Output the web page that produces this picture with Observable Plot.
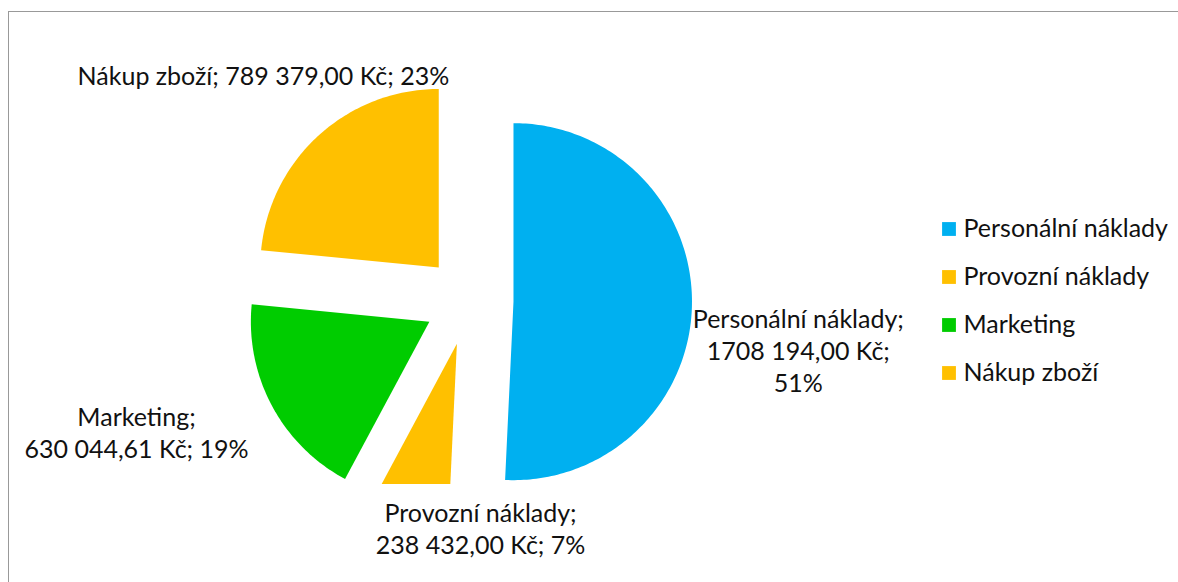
<!DOCTYPE html>
<html>
<head>
<meta charset="utf-8">
<script src="https://cdn.jsdelivr.net/npm/d3@7"></script>
<script src="https://cdn.jsdelivr.net/npm/@observablehq/plot@0.6"></script>
<style>
  html, body { margin: 0; padding: 0; background: #fff; overflow: hidden; }
  #wrap { position: relative; width: 1178px; height: 582px; overflow: hidden; }
  #frame { position: absolute; left: 8px; top: 11px; width: 1300px; height: 700px;
           border-top: 1.5px solid #999; border-left: 1.5px solid #999;
           border-right: none; border-bottom: none; pointer-events: none; }
</style>
</head>
<body>
<div id="wrap"><div id="chart"></div><div id="frame"></div></div>
<script>
// ---- data ----
const categories = ["Personální náklady", "Provozní náklady", "Marketing", "Nákup zboží"];
const values = [1708194.00, 238432.00, 630044.61, 789379.00];
const valueLabels = ["1708 194,00 Kč", "238 432,00 Kč", "630 044,61 Kč", "789 379,00 Kč"];
const percentLabels = ["51%", "7%", "19%", "23%"];
const colors = ["#00B0F0", "#FFC000", "#00CC00", "#FFC000"];

// ---- layout ----
const W = 1178, H = 582;
const plotBottom = 484;            // plot-area bottom edge (slices are clipped here)
const cx = 468.3, cy = 300.1;      // pie centre
const radius = 178.5, explode = 44.7;
const labelBreaks = [["\n", "\n"], ["\n", " "], ["\n", " "], [" ", " "]];
const labelOffsets = [[106.4, 43.9], [71.2, 11.7], [-135.4, 26.2], [-55.4, -60.8]];
const legendX = 948.5, legendTextX = 963, legendY0 = 228.5, legendStep = 48;
const fontSize = 25;

// ---- geometry via d3.pie ----
const arcs = d3.pie().sort(null).value(d => d)(values);
const slicePts = [];
const labels = [];
arcs.forEach((a, i) => {
  const mid = (a.startAngle + a.endAngle) / 2;
  const vx = cx + explode * Math.sin(mid), vy = cy - explode * Math.cos(mid);
  const name = categories[i];
  slicePts.push({name, x: vx, y: vy});
  const N = Math.max(8, Math.ceil((a.endAngle - a.startAngle) * 180 / Math.PI));
  for (let k = 0; k <= N; k++) {
    const t = a.startAngle + (a.endAngle - a.startAngle) * k / N;
    slicePts.push({name, x: vx + radius * Math.sin(t), y: vy - radius * Math.cos(t)});
  }
  slicePts.push({name, x: vx, y: vy});
  const ox = vx + radius * Math.sin(mid), oy = vy - radius * Math.cos(mid);
  const [b0, b1] = labelBreaks[i];
  labels.push({
    x: ox + labelOffsets[i][0],
    y: oy + labelOffsets[i][1],
    text: name + ";" + b0 + valueLabels[i] + ";" + b1 + percentLabels[i]
  });
});
const legendRows = categories.map((name, i) => ({name, y: legendY0 + i * legendStep}));

const chart = Plot.plot({
  width: W, height: H,
  marginTop: 0, marginLeft: 0, marginRight: 0, marginBottom: H - plotBottom,
  x: {domain: [0, W], range: [0, W], axis: null},
  y: {domain: [0, plotBottom], range: [0, plotBottom], axis: null},
  color: {type: "ordinal", domain: categories, range: colors},
  style: {fontFamily: "Lato, 'Open Sans', sans-serif", background: "transparent", overflow: "visible"},
  marks: [
    Plot.line(slicePts, {x: "x", y: "y", z: "name", fill: "name", stroke: "none", clip: true}),
    Plot.text(labels, {x: "x", y: "y", text: "text", fontSize, lineHeight: 1.28, fill: "#111", textAnchor: "middle"}),
    Plot.dot(legendRows, {x: () => legendX, y: "y", fill: "name", symbol: "square", r: 7.8, stroke: "none"}),
    Plot.text(legendRows, {x: () => legendTextX, y: "y", text: "name", fontSize, fill: "#111", textAnchor: "start"})
  ]
});
document.getElementById("chart").appendChild(chart);
</script>
</body>
</html>
